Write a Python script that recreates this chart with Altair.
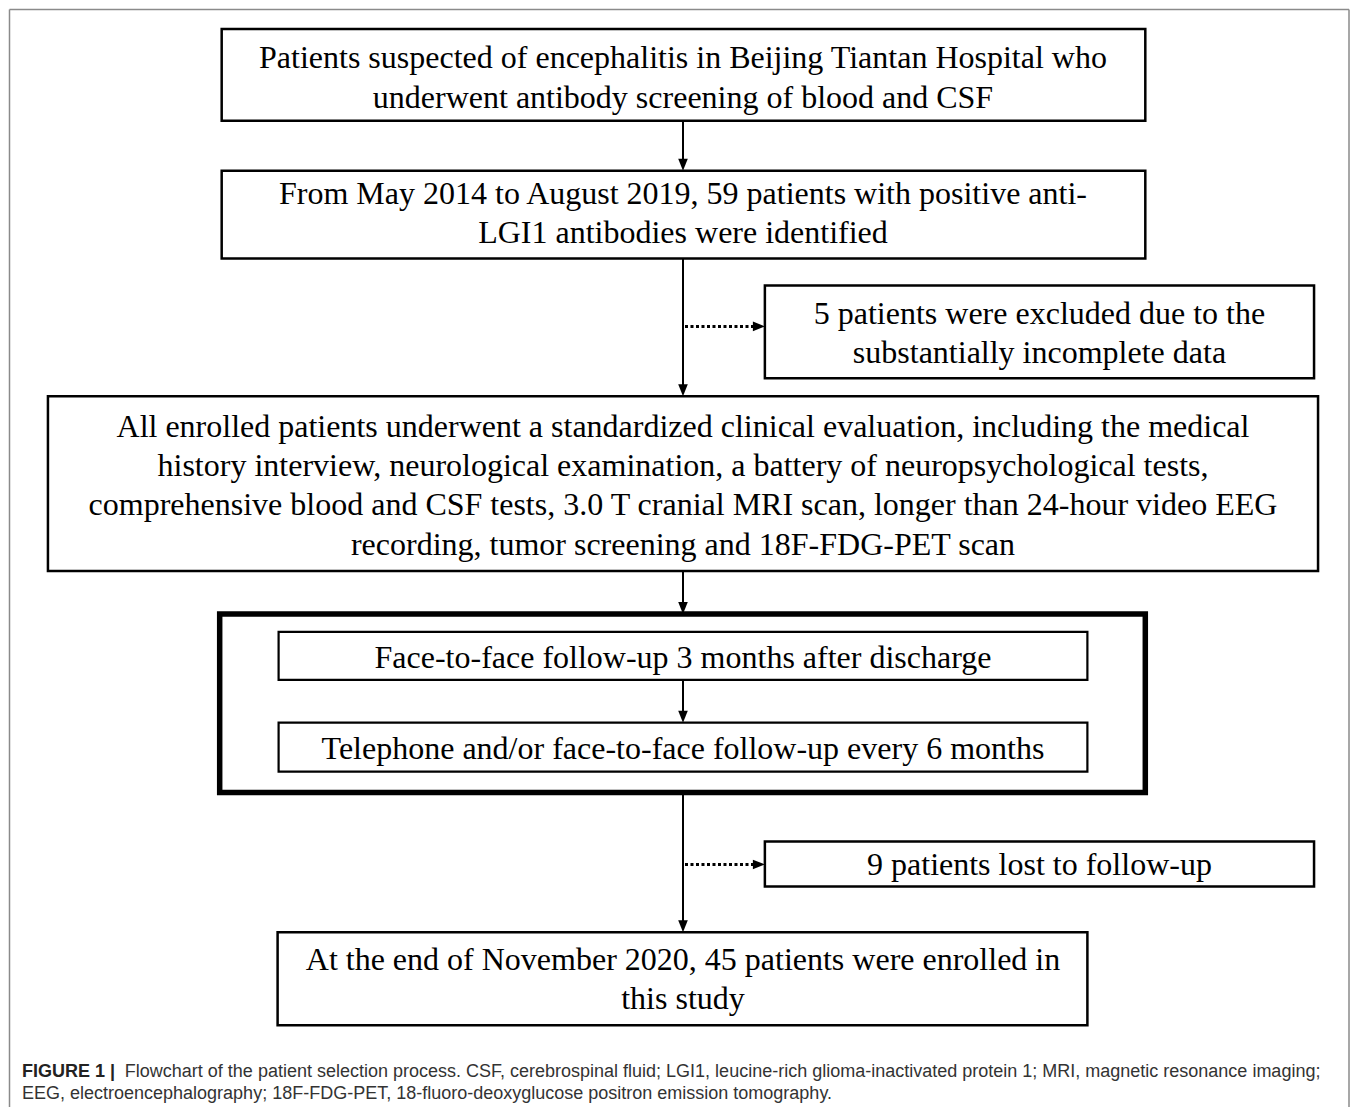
import altair as alt
import pandas as pd

# ---- diagram content (image pixel coordinates) ----
box_x1 = [220, 220, 764, 46, 218, 277, 277, 764, 276]
box_x2 = [1145, 1145, 1314, 1318, 1145, 1087, 1087, 1314, 1087]
box_y1 = [28, 170, 285, 396, 614, 632, 723, 842, 933]
box_y2 = [120, 258, 378, 571, 793, 680, 772, 887, 1026]
box_w = [2.5, 2.5, 2.5, 2.5, 5.5, 2.2, 2.2, 2.5, 2.5]

text_lines = [
    "Patients suspected of encephalitis in Beijing Tiantan Hospital who",
    "underwent antibody screening of blood and CSF",
    "From May 2014 to August 2019, 59 patients with positive anti-",
    "LGI1 antibodies were identified",
    "5 patients were excluded due to the",
    "substantially incomplete data",
    "All enrolled patients underwent a standardized clinical evaluation, including the medical",
    "history interview, neurological examination, a battery of neuropsychological tests,",
    "comprehensive blood and CSF tests, 3.0 T cranial MRI scan, longer than 24-hour video EEG",
    "recording, tumor screening and 18F-FDG-PET scan",
    "Face-to-face follow-up 3 months after discharge",
    "Telephone and/or face-to-face follow-up every 6 months",
    "9 patients lost to follow-up",
    "At the end of November 2020, 45 patients were enrolled in",
    "this study",
]
text_x = [682, 682, 682, 682, 1039, 1039, 682, 682, 682, 682, 682, 682, 1039, 682, 682]
text_y = [57, 97, 193, 232, 314, 353, 427, 466, 505, 545, 658, 749, 866, 961, 1000]

# solid connector lines
line_x = [682, 682, 682, 682, 682]
line_y1 = [120, 258, 571, 680, 793]
line_y2 = [162, 388, 606, 715, 925]

# dotted branch lines
dot_x1 = [684, 684]
dot_x2 = [756, 756]
dot_y = [326, 865]

# arrowheads (tips)
down_x = [682, 682, 682, 682, 682]
down_y = [170, 396, 614, 723, 933]
right_x = [764, 764]
right_y = [326, 865]

# outer frame
frame_x1 = [7.5, 7.5, 1349]
frame_x2 = [1349, 7.5, 1349]
frame_y1 = [8.5, 8.5, 8.5]
frame_y2 = [8.5, 1108, 1108]

caption_bold = ["FIGURE 1 |", ""]
caption_text = [
    "Flowchart of the patient selection process. CSF, cerebrospinal fluid; LGI1, leucine-rich glioma-inactivated protein 1; MRI, magnetic resonance imaging;",
    "EEG, electroencephalography; 18F-FDG-PET, 18-fluoro-deoxyglucose positron emission tomography.",
]
caption_x = [123, 20]
caption_y = [1073, 1095]

# ---- build ----
W, H = 1342, 1100
xs = alt.Scale(domain=[8, 8 + W], nice=False, zero=False)
ys = alt.Scale(domain=[8, 8 + H], nice=False, zero=False, reverse=True)
X = lambda f: alt.X(f, type="quantitative", scale=xs, axis=None)
Y = lambda f: alt.Y(f, type="quantitative", scale=ys, axis=None)

frame_df = pd.DataFrame(dict(x=frame_x1, x2=frame_x2, y=frame_y1, y2=frame_y2))
frame = alt.Chart(frame_df).mark_rule(color="#8a8a8a", strokeWidth=1.5).encode(
    x=X("x"), x2="x2", y=Y("y"), y2="y2")

box_df = pd.DataFrame(dict(x=box_x1, x2=box_x2, y=box_y1, y2=box_y2, w=box_w))
boxes = alt.Chart(box_df).mark_rect(fill="white", stroke="black").encode(
    x=X("x"), x2="x2", y=Y("y"), y2="y2",
    strokeWidth=alt.StrokeWidth("w:Q", scale=None))

line_df = pd.DataFrame(dict(x=line_x, y=line_y1, y2=line_y2))
lines = alt.Chart(line_df).mark_rule(color="black", strokeWidth=2).encode(
    x=X("x"), y=Y("y"), y2="y2")

dot_df = pd.DataFrame(dict(x=dot_x1, x2=dot_x2, y=dot_y))
dots = alt.Chart(dot_df).mark_rule(color="black", strokeWidth=3, strokeDash=[3, 2.5]).encode(
    x=X("x"), x2="x2", y=Y("y"))

down_df = pd.DataFrame(dict(x=down_x, y=[v - 6 for v in down_y]))
down = alt.Chart(down_df).mark_point(
    shape="M-0.8,-1L0.8,-1L0,1Z", size=144, filled=True, color="black", opacity=1
).encode(x=X("x"), y=Y("y"))

right_df = pd.DataFrame(dict(x=[v - 6 for v in right_x], y=right_y))
right = alt.Chart(right_df).mark_point(
    shape="M-1,-0.8L1,0L-1,0.8Z", size=144, filled=True, color="black", opacity=1
).encode(x=X("x"), y=Y("y"))

text_df = pd.DataFrame(dict(x=text_x, y=text_y, t=text_lines))
texts = alt.Chart(text_df).mark_text(
    font="Liberation Serif", fontSize=32, color="black", baseline="middle", align="center"
).encode(x=X("x"), y=Y("y"), text="t:N")

capb_df = pd.DataFrame(dict(x=[20, 20], y=caption_y, t=caption_bold))
capb = alt.Chart(capb_df).mark_text(
    font="Liberation Sans", fontSize=18, fontWeight="bold", color="#222222",
    baseline="middle", align="left"
).encode(x=X("x"), y=Y("y"), text="t:N")

cap_df = pd.DataFrame(dict(x=caption_x, y=caption_y, t=caption_text))
cap = alt.Chart(cap_df).mark_text(
    font="Liberation Sans", fontSize=18, color="#333333", baseline="middle", align="left"
).encode(x=X("x"), y=Y("y"), text="t:N")

chart = alt.layer(frame, boxes, lines, dots, down, right, texts, capb, cap).properties(
    width=W, height=H, padding=0,
    autosize=alt.AutoSizeParams(type="fit", contains="padding"),
).configure_view(stroke=None)

chart.save("out.html", embed_options={"renderer": "svg", "actions": False})
